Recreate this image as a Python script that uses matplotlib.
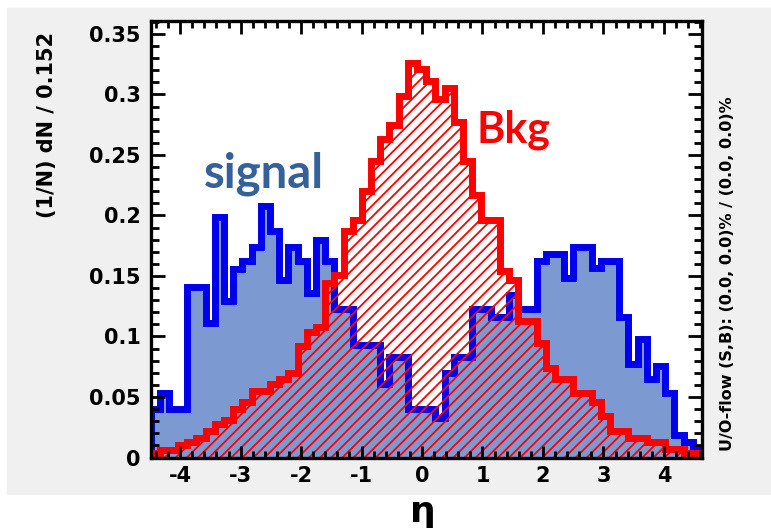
import matplotlib.pyplot as plt
import numpy as np
from matplotlib.patches import Rectangle

plt.rcParams['hatch.linewidth'] = 1.3
plt.rcParams['axes.unicode_minus'] = False

# histogram contents, 60 bins of width 0.152 in eta
eta_min = -4.49
bin_width = 0.152

signal = [0.040, 0.053, 0.040, 0.040, 0.141, 0.141, 0.111, 0.199, 0.129, 0.156,
          0.162, 0.174, 0.208, 0.187, 0.147, 0.174, 0.162, 0.136, 0.180, 0.162,
          0.123, 0.123, 0.093, 0.093, 0.093, 0.061, 0.083, 0.083, 0.040, 0.040,
          0.040, 0.033, 0.070, 0.083, 0.083, 0.123, 0.123, 0.116, 0.116, 0.134,
          0.123, 0.123, 0.162, 0.168, 0.168, 0.148, 0.174, 0.174, 0.157, 0.162,
          0.162, 0.116, 0.077, 0.098, 0.065, 0.076, 0.053, 0.019, 0.013, 0.007]

bkg = [0.004, 0.006, 0.006, 0.010, 0.013, 0.016, 0.022, 0.028, 0.031, 0.040,
       0.046, 0.055, 0.055, 0.061, 0.065, 0.070, 0.092, 0.104, 0.108, 0.144,
       0.151, 0.187, 0.196, 0.220, 0.245, 0.263, 0.275, 0.299, 0.326, 0.321,
       0.311, 0.296, 0.305, 0.277, 0.245, 0.217, 0.196, 0.196, 0.154, 0.147,
       0.113, 0.113, 0.095, 0.074, 0.065, 0.065, 0.053, 0.053, 0.046, 0.034,
       0.022, 0.022, 0.016, 0.016, 0.013, 0.013, 0.007, 0.007, 0.004, 0.004]

x_ticks = [-4, -3, -2, -1, 0, 1, 2, 3, 4]
y_ticks = [0, 0.05, 0.1, 0.15, 0.2, 0.25, 0.3, 0.35]
y_ticklabels = ['0', '0.05', '0.1', '0.15', '0.2', '0.25', '0.3', '0.35']

edges = eta_min + bin_width * np.arange(len(signal) + 1)

W, H = 771, 528
fig = plt.figure(figsize=(W / 100, H / 100), dpi=100)

# grey canvas behind the ROOT pad
bg = Rectangle((7 / W, 1 - 494 / H), (W - 7) / W, (494 - 8) / H,
               transform=fig.transFigure, color='#f0f0f0', zorder=-10)
fig.patches.append(bg)

ax = fig.add_axes([150.5 / W, 1 - 457.5 / H, (702 - 150.5) / W, (457.5 - 21) / H])
ax.set_facecolor('white')

# signal: filled light blue with thick blue outline
ax.stairs(signal, edges, fill=True, facecolor='#7d99d1', edgecolor='none', linewidth=0)
ax.stairs(signal, edges, color='#0000ee', linewidth=5, joinstyle='miter')

# background: red hatch with thick red outline
ax.stairs(bkg, edges, fill=True, facecolor='none', edgecolor='#ff0000',
          hatch='///', linewidth=0)
ax.stairs(bkg, edges, color='#ff0000', linewidth=5, joinstyle='miter')

ax.set_xlim(edges[0], edges[-1])
ax.set_ylim(0, 0.3607)

ax.set_xticks(x_ticks)
ax.set_xticks(np.arange(-4.4, 4.7, 0.2), minor=True)
ax.set_yticks(y_ticks)
ax.set_yticklabels(y_ticklabels)
ax.set_yticks(np.arange(0, 0.361, 0.01), minor=True)
ax.set_axisbelow(False)

ax.tick_params(axis='both', which='both', direction='in', top=True, right=True,
               width=2, labelsize=15)
ax.tick_params(axis='x', which='major', length=9, pad=6)
ax.tick_params(axis='x', which='minor', length=5)
ax.tick_params(axis='y', which='major', length=10, pad=7)
ax.tick_params(axis='y', which='minor', length=6)
for lab in ax.get_xticklabels() + ax.get_yticklabels():
    lab.set_fontweight('bold')
for s in ax.spines.values():
    s.set_linewidth(2.4)

# axis titles and annotations
fig.text(47 / W, 1 - 125 / H, '(1/N) dN / 0.152', rotation=90, ha='center',
         va='center', fontsize=15, fontweight='bold')
fig.text(727 / W, 1 - 274 / H, 'U/O-flow (S,B): (0.0, 0.0)% / (0.0, 0.0)%',
         rotation=90, ha='center', va='center', fontsize=11.5, fontweight='bold')
fig.text(423 / W, 1 - 512 / H, 'η', ha='center', va='center', fontsize=26,
         fontweight='bold')

fig.text(264 / W, 1 - 187 / H, 'signal', ha='center', va='baseline',
         fontsize=34, fontweight='bold', color='#36609a', family='Lato')
fig.text(513 / W, 1 - 143 / H, 'Bkg', ha='center', va='baseline',
         fontsize=31, fontweight='bold', color='#ff0000', family='Lato')

fig.savefig('out.png', dpi=100)
